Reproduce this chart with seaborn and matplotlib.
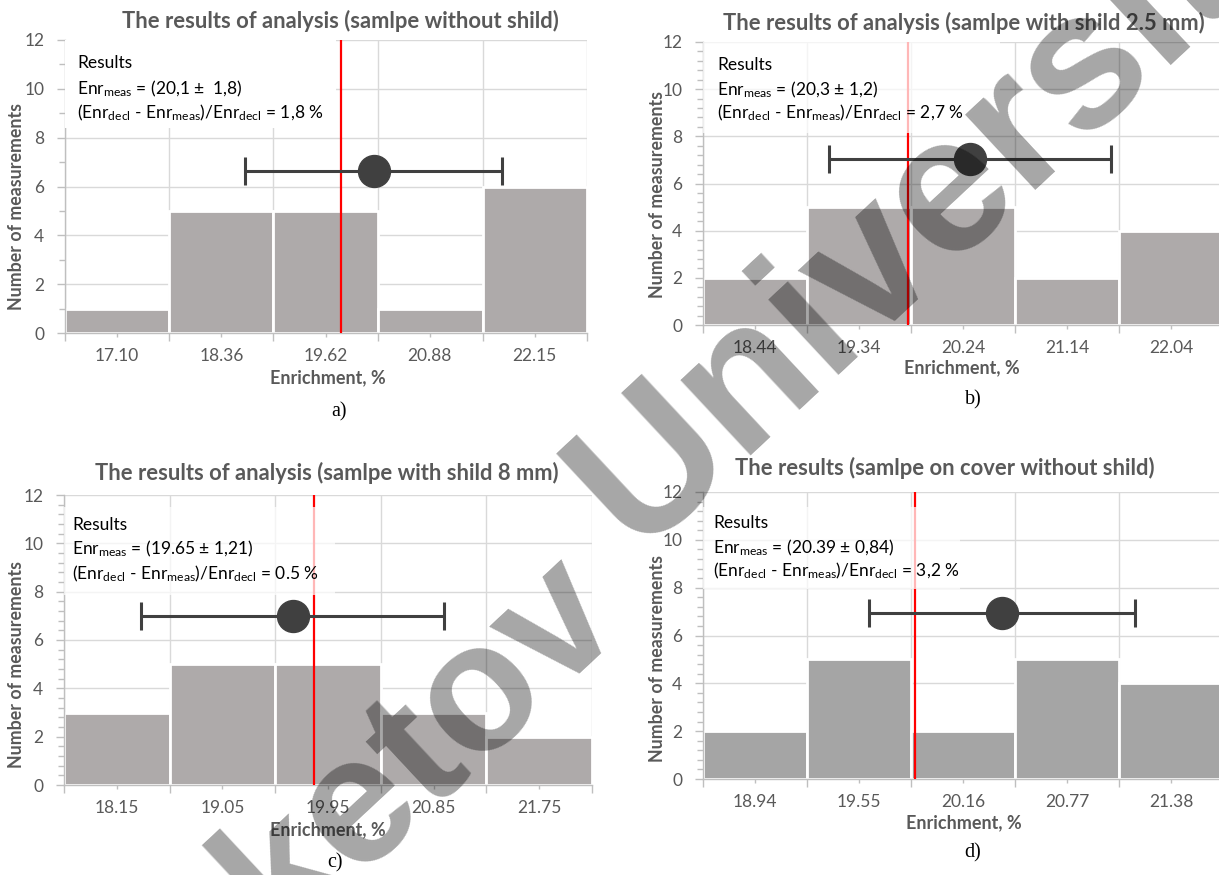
import matplotlib
matplotlib.use("Agg")
import matplotlib.pyplot as plt
import seaborn as sns
import numpy as np
import pandas as pd
from matplotlib.ticker import FixedLocator, MultipleLocator
from matplotlib.patches import Rectangle

# ---------------- data ----------------
titles = ["The results of analysis (samlpe without shild)",
          "The results of analysis (samlpe with shild 2.5 mm)",
          "The results of analysis (samlpe with shild 8 mm)",
          "The results (samlpe on cover without shild)"]
tick_labels_a = ["17.10", "18.36", "19.62", "20.88", "22.15"]
counts_a = [1, 5, 5, 1, 6]
tick_labels_b = ["18.44", "19.34", "20.24", "21.14", "22.04"]
counts_b = [2, 5, 5, 2, 4]
tick_labels_c = ["18.15", "19.05", "19.95", "20.85", "21.75"]
counts_c = [3, 5, 5, 3, 2]
tick_labels_d = ["18.94", "19.55", "20.16", "20.77", "21.38"]
counts_d = [2, 5, 2, 5, 4]
meas_x = [20.20, 20.30, 19.65, 20.39]
meas_err = [1.55, 1.22, 1.29, 0.78]
meas_y = [6.63, 7.06, 7.00, 6.95]
decl_x = [19.81, 19.76, 19.83, 19.88]
meas_text = ["(20,1 \u00b1  1,8)", "(20,3 \u00b1 1,2)", "(19.65 \u00b1 1,21)", "(20.39 \u00b1 0,84)"]
dev_text = ["1,8 %", "2,7 %", "0.5 %", "3,2 %"]
panel_letters = ["a)", "b)", "c)", "d)"]
watermark_words = ["Buketov", "University"]

tick_sets = [tick_labels_a, tick_labels_b, tick_labels_c, tick_labels_d]
count_sets = [counts_a, counts_b, counts_c, counts_d]

# ---------------- style / layout ----------------
sns.set_style("white")
plt.rcParams["font.family"] = ["Lato", "DejaVu Sans"]
plt.rcParams["mathtext.default"] = "regular"

W, H = 1219, 875
fig = plt.figure(figsize=(W / 100, H / 100), dpi=100)

def fpos(x, y):
    return x / W, 1 - y / H

TXT = "#595959"
GRID = "#d9d9d9"
bar_colors = ["#aeaaaa", "#aeaaaa", "#aeaaaa", "#a5a5a5"]

rects = [(65, 40, 587, 333), (703, 42, 1223, 325), (64, 495, 592, 785), (703, 492, 1223, 779)]
title_pos = [(340, 21), (964, 23), (327, 473), (945, 468)]
ylab_pos = [(17, 207), (658, 194), (17, 664), (658, 659)]
xlab_pos = [(328, 378), (962, 368), (328, 830), (964, 823)]
letter_pos = [(339, 412), (973, 400), (335, 863), (973, 853)]
res_x = [77, 717, 72, 713]
res_base = [(68, 94, 118), (70, 95, 118), (530, 554, 579), (528, 553, 576)]
boxes = [(65, 40, 336, 128), (703, 42, 1000, 133), (64, 507, 335, 595), (703, 507, 960, 589)]
minor_y = [1.0, 0.4, 0.4, 0.4]

for i in range(4):
    x0, y0, x1, y1 = rects[i]
    ax = fig.add_axes([x0 / W, 1 - y1 / H, (x1 - x0) / W, (y1 - y0) / H])
    labels = tick_sets[i]
    centers = [float(s) for s in labels]
    w = float(np.mean(np.diff(centers)))
    edges = [c - w / 2 for c in centers] + [centers[-1] + w / 2]
    df = pd.DataFrame({"enr": centers, "n": count_sets[i]})
    sns.histplot(data=df, x="enr", weights="n", bins=edges, ax=ax,
                 color=bar_colors[i], alpha=1, edgecolor="white", linewidth=2, zorder=2)
    ax.set_xlim(edges[0], edges[-1])
    ax.set_ylim(0, 12)
    ax.set_axisbelow(True)

    # ticks
    ax.xaxis.set_major_locator(FixedLocator(centers))
    ax.set_xticklabels(labels)
    ax.xaxis.set_minor_locator(FixedLocator(edges))
    ax.yaxis.set_major_locator(MultipleLocator(2))
    ax.yaxis.set_minor_locator(MultipleLocator(minor_y[i]))
    ax.tick_params(axis="x", which="major", length=3, width=1, color="#bfbfbf",
                   labelsize=12.5, labelcolor=TXT, pad=8, direction="out", bottom=True)
    ax.tick_params(axis="x", which="minor", length=6, width=1, color="#bfbfbf", bottom=True)
    ax.tick_params(axis="y", which="major", length=6, width=1, color="#bfbfbf",
                   labelsize=12.5, labelcolor=TXT, pad=9, left=True)
    ax.tick_params(axis="y", which="minor", length=4, width=1, color="#bfbfbf", left=True)

    ax.grid(axis="y", which="major", color=GRID, lw=1)
    ax.grid(axis="x", which="minor", color=GRID, lw=1)
    ax.grid(axis="x", which="major", visible=False)
    for s in ["top", "right"]:
        ax.spines[s].set_visible(False)
    for s in ["left", "bottom"]:
        ax.spines[s].set_color("#bfbfbf")
        ax.spines[s].set_linewidth(1)
    ax.set_xlabel("")
    ax.set_ylabel("")

    # declared value and measured result
    ax.axvline(decl_x[i], color="#ff0000", lw=1.6, zorder=4)
    ax.errorbar([meas_x[i]], [meas_y[i]], xerr=[meas_err[i]], fmt="o", color="#404040",
                ms=23, lw=2.2, capsize=10, capthick=2.2, zorder=6)

    # white box behind the results text
    bx0, by0, bx1, by1 = boxes[i]
    inv = ax.transAxes.inverted()
    (ax0, ay1) = inv.transform((bx0, H - by0))
    (ax1, ay0) = inv.transform((bx1, H - by1))
    if i == 0:
        ax.add_patch(Rectangle((ax0, ay0), ax1 - ax0, ay1 - ay0, transform=ax.transAxes,
                               facecolor="white", edgecolor="none", zorder=3))
    else:
        ax.add_patch(Rectangle((ax0, ay0), ax1 - ax0, ay1 - ay0, transform=ax.transAxes,
                               facecolor="white", edgecolor="none", alpha=0.72, zorder=5))

    lines = ["Results",
             "Enr$_{meas}$ = " + meas_text[i],
             "(Enr$_{decl}$ - Enr$_{meas}$)/Enr$_{decl}$ = " + dev_text[i]]
    for txt, yb in zip(lines, res_base[i]):
        fig.text(*fpos(res_x[i], yb), txt, fontsize=12.5, color="black",
                 ha="left", va="baseline", zorder=7)

    fig.text(*fpos(*title_pos[i]), titles[i], fontsize=15.8, fontweight="bold",
             color=TXT, ha="center", va="center")
    fig.text(*fpos(*ylab_pos[i]), "Number of measurements", fontsize=12.8,
             fontweight="bold", color=TXT, rotation=90, ha="center", va="center")
    fig.text(*fpos(*xlab_pos[i]), "Enrichment, %", fontsize=13, fontweight="bold",
             color=TXT, ha="center", va="center")
    fig.text(*fpos(*letter_pos[i]), panel_letters[i], fontsize=14.5,
             family="Liberation Serif", color="black", ha="center", va="center")

# watermark overlay (two words)
wm_anchor = [(365, 863), (980, 231)]
wm_size = [130, 140]
for word, (px, py), fs in zip(watermark_words, wm_anchor, wm_size):
    fig.text(*fpos(px, py), word, fontsize=fs, family="Liberation Sans",
             fontweight="bold", color="black", alpha=0.35, rotation=43,
             rotation_mode="anchor", ha="center", va="baseline", zorder=20)

fig.savefig("out.png", dpi=100)
